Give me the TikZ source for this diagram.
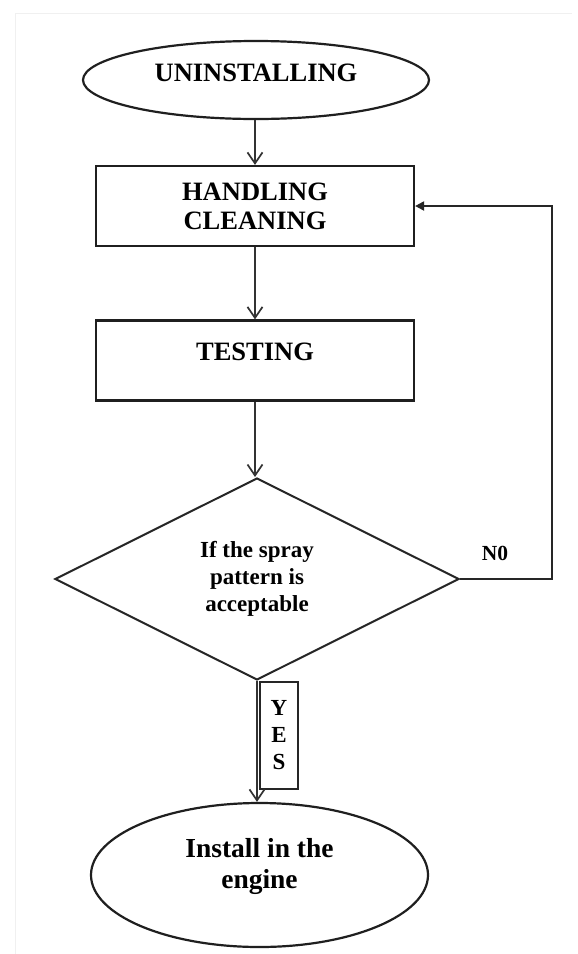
\documentclass[tikz,border=0pt]{standalone}
\usepackage{fontspec}
\setmainfont{Liberation Serif}
\usetikzlibrary{shapes.geometric,arrows.meta}
\begin{document}
\begin{tikzpicture}[x=1pt,y=-1pt,
  shapeline/.style={draw=black!88,line width=2.2pt},
  termshape/.style={shapeline,ellipse,inner sep=0pt},
  procbox/.style={shapeline,rectangle,inner sep=0pt,minimum width=318pt,minimum height=80pt},
  decshape/.style={draw=black!85,line width=2pt,diamond,inner sep=0pt,minimum width=404pt,minimum height=202pt,aspect=2},
  bigtxt/.style={font=\fontsize{26.5}{29}\selectfont\bfseries,align=center,inner sep=0pt},
  midtxt/.style={font=\fontsize{23}{27}\selectfont\bfseries,align=center,inner sep=0pt},
  arr/.style={draw=black!80,line width=1.7pt,-{Straight Barb[length=11pt,width=15pt,line width=1.7pt]}},
  fbarr/.style={draw=black!85,line width=2pt,-{Triangle[length=9pt,width=9pt]}},
  yesbox/.style={draw=black!85,line width=1.8pt,rectangle,inner sep=0pt,minimum width=38pt,minimum height=107pt,font=\fontsize{23}{27}\selectfont\bfseries,align=center}
]
\useasboundingbox (0,0) rectangle (578,954);
\fill[white] (0,0) rectangle (578,954);
% faint frame
\draw[black!6,line width=1pt] (15,954) -- (15,13) -- (572,13);

% shapes
\node[termshape,minimum width=346pt,minimum height=78pt] (e1) at (256,80) {};
\node[bigtxt] (t1) at (256,73) {UNINSTALLING};

\node[procbox,bigtxt] (b1) at (255,206) {HANDLING\\CLEANING};

\node[procbox] (b2) at (255,360.5) {};
\node[bigtxt] (t2) at (255,352) {TESTING};

\node[decshape,midtxt] (dec) at (257,579) {If the spray\\pattern is\\acceptable};

\node[termshape,minimum width=337pt,minimum height=144pt] (e2) at (259.5,875) {};
\node[bigtxt,font=\fontsize{27.5}{31}\selectfont\bfseries] (t3) at (259.5,866) {Install in the\\engine};

% labels
\node[font=\fontsize{21.5}{24}\selectfont\bfseries,inner sep=0pt] (no) at (495,553) {N0};
\node[yesbox] (yes) at (279,735.5) {Y\\E\\S};

% connectors
\draw[arr] (e1.south -| b1.north) -- (b1.north);
\draw[arr] (b1.south) -- (b2.north);
\draw[arr] (b2.south) -- (b2.south |- dec.north);
\draw[arr,line width=2.3pt] (dec.south) -- (dec.south |- e2.north);
\draw[fbarr] (dec.east) -- ++(92,0) |- (b1.east);
\end{tikzpicture}
\end{document}
